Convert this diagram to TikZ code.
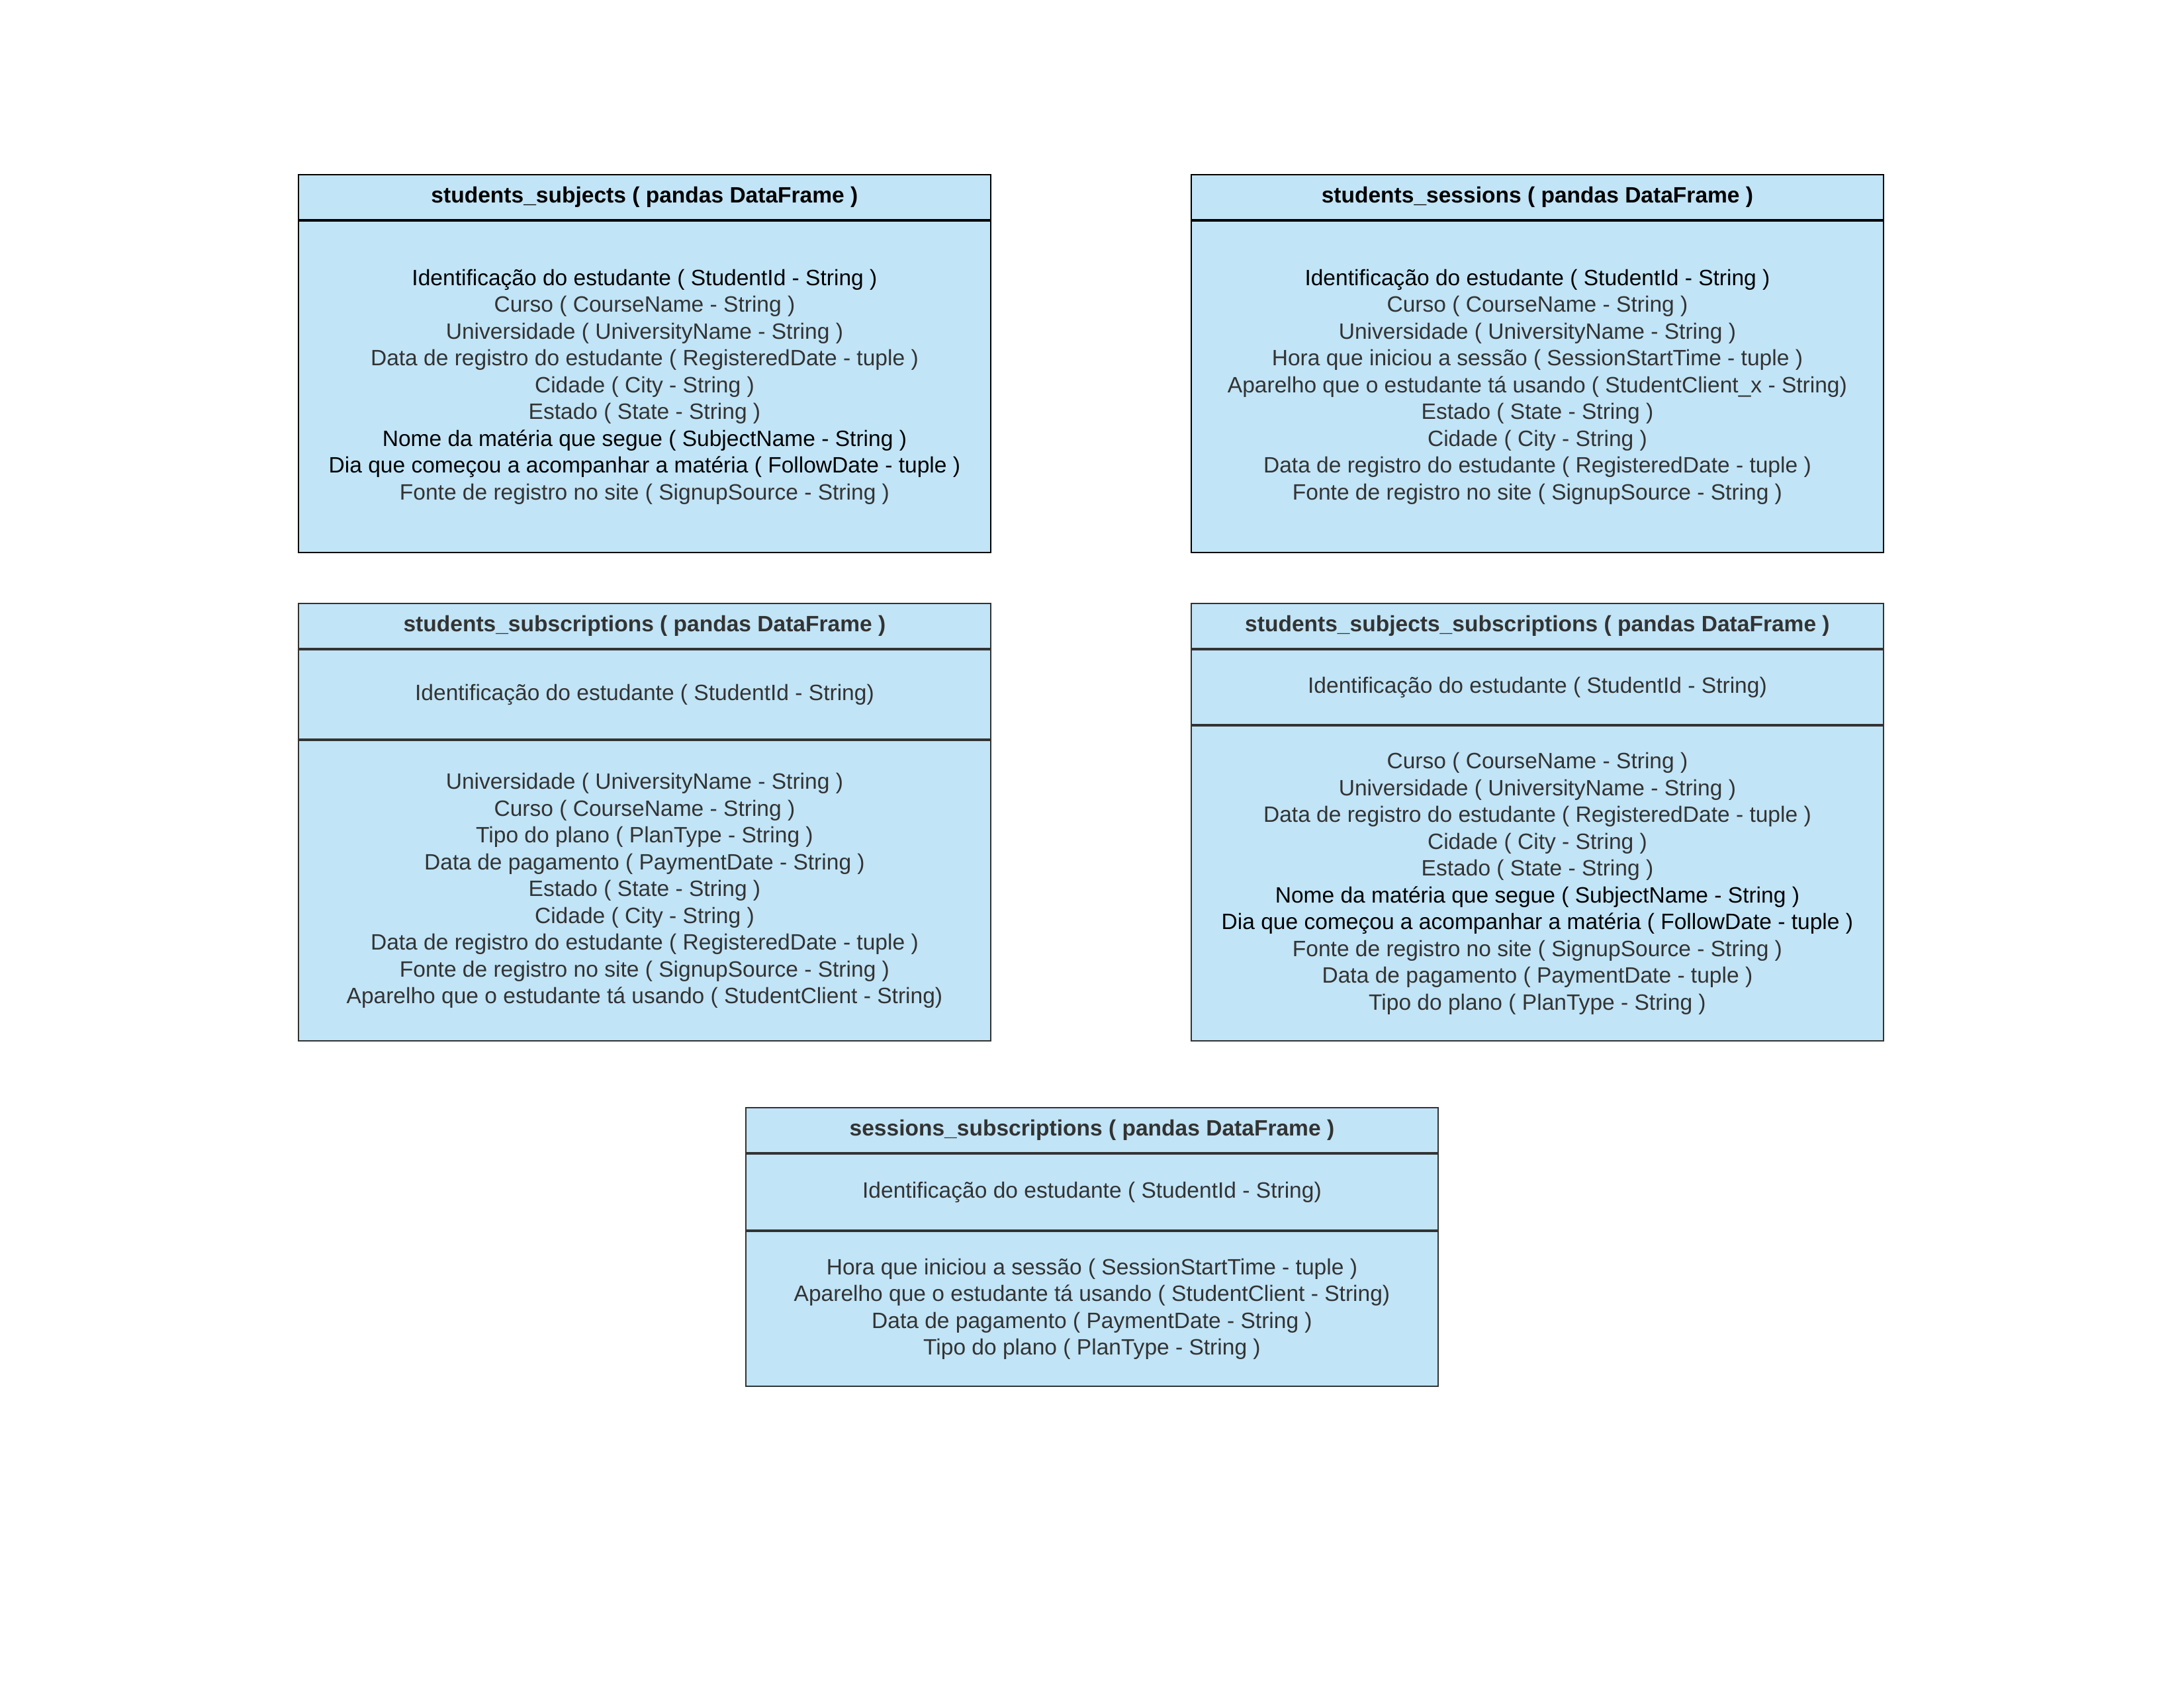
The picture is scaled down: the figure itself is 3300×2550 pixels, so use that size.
\documentclass[tikz,border=0pt]{standalone}
\usepackage{fontspec}
\setmainfont{Liberation Sans}
\usetikzlibrary{positioning}

\definecolor{dfblue}{RGB}{193,228,246}
\definecolor{dfgray}{RGB}{51,51,51}
\newcommand{\dfkey}[1]{\textcolor{black}{#1}}

\tikzset{
  dfsec/.style={draw=#1, fill=dfblue, line width=0.5pt, inner sep=0pt,
    minimum width=251pt, align=center, text=dfgray,
    font=\fontsize{8.05}{9.72}\selectfont},
  dfsec/.default=dfgray,
  dfhead/.style={dfsec=#1, minimum height=16.3pt,
    font=\fontsize{8.05}{9.72}\selectfont\bfseries},
  dfhead/.default=dfgray,
}

\begin{document}
\begin{tikzpicture}[x=0.24pt,y=-0.24pt]
\useasboundingbox (0,0) rectangle (3300,2550);

% students_subjects
\node[dfhead=black, anchor=north west, text=black] (subj-head) at (450,263)
  {students\_subjects ( pandas DataFrame )};
\node[dfsec=black, minimum height=120.2pt, below=0pt of subj-head] (subj-body)
  {\dfkey{Identificação do estudante ( StudentId - String )}\\
   Curso ( CourseName - String )\\
   Universidade ( UniversityName - String )\\
   Data de registro do estudante ( RegisteredDate - tuple )\\
   Cidade ( City - String )\\
   Estado ( State - String )\\
   \dfkey{Nome da matéria que segue ( SubjectName - String )}\\
   \dfkey{Dia que começou a acompanhar a matéria ( FollowDate - tuple )}\\
   Fonte de registro no site ( SignupSource - String )};

% students_sessions
\node[dfhead=black, anchor=north west, text=black] (sess-head) at (1799,263)
  {students\_sessions ( pandas DataFrame )};
\node[dfsec=black, minimum height=120.2pt, below=0pt of sess-head] (sess-body)
  {\dfkey{Identificação do estudante ( StudentId - String )}\\
   Curso ( CourseName - String )\\
   Universidade ( UniversityName - String )\\
   Hora que iniciou a sessão ( SessionStartTime - tuple )\\
   Aparelho que o estudante tá usando ( StudentClient\_x - String)\\
   Estado ( State - String )\\
   Cidade ( City - String )\\
   Data de registro do estudante ( RegisteredDate - tuple )\\
   Fonte de registro no site ( SignupSource - String )};

% students_subscriptions
\node[dfhead, anchor=north west] (subs-head) at (450,911)
  {students\_subscriptions ( pandas DataFrame )};
\node[dfsec, minimum height=32.4pt, below=0pt of subs-head] (subs-id)
  {Identificação do estudante ( StudentId - String)};
\node[dfsec, minimum height=109.0pt, below=0pt of subs-id] (subs-body)
  {Universidade ( UniversityName - String )\\
   Curso ( CourseName - String )\\
   Tipo do plano ( PlanType - String )\\
   Data de pagamento ( PaymentDate - String )\\
   Estado ( State - String )\\
   Cidade ( City - String )\\
   Data de registro do estudante ( RegisteredDate - tuple )\\
   Fonte de registro no site ( SignupSource - String )\\
   Aparelho que o estudante tá usando ( StudentClient - String)};

% students_subjects_subscriptions
\node[dfhead, anchor=north west] (sjsb-head) at (1799,911)
  {students\_subjects\_subscriptions ( pandas DataFrame )};
\node[dfsec, minimum height=27.1pt, below=0pt of sjsb-head] (sjsb-id)
  {Identificação do estudante ( StudentId - String)};
\node[dfsec, minimum height=114.3pt, below=0pt of sjsb-id] (sjsb-body)
  {Curso ( CourseName - String )\\
   Universidade ( UniversityName - String )\\
   Data de registro do estudante ( RegisteredDate - tuple )\\
   Cidade ( City - String )\\
   Estado ( State - String )\\
   \dfkey{Nome da matéria que segue ( SubjectName - String )}\\
   \dfkey{Dia que começou a acompanhar a matéria ( FollowDate - tuple )}\\
   Fonte de registro no site ( SignupSource - String )\\
   Data de pagamento ( PaymentDate - tuple )\\
   Tipo do plano ( PlanType - String )};

% sessions_subscriptions
\node[dfhead, anchor=north west] (sesb-head) at (1126,1673)
  {sessions\_subscriptions ( pandas DataFrame )};
\node[dfsec, minimum height=27.6pt, below=0pt of sesb-head] (sesb-id)
  {Identificação do estudante ( StudentId - String)};
\node[dfsec, minimum height=56.2pt, below=0pt of sesb-id] (sesb-body)
  {Hora que iniciou a sessão ( SessionStartTime - tuple )\\
   Aparelho que o estudante tá usando ( StudentClient - String)\\
   Data de pagamento ( PaymentDate - String )\\
   Tipo do plano ( PlanType - String )};
\end{tikzpicture}
\end{document}
